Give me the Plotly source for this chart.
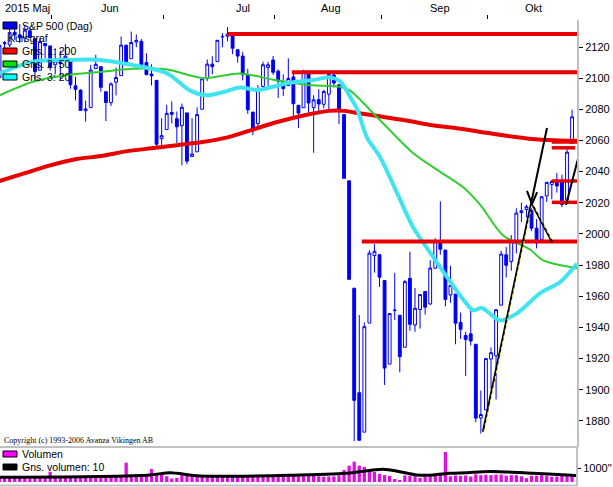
import plotly.graph_objects as go

# ---------------- data (S&P 500 daily, 2015-05-14 .. 2015-10-23) ----------------
dates = ["05-14","05-15","05-18","05-19","05-20","05-21","05-22","05-26","05-27","05-28","05-29",
         "06-01","06-02","06-03","06-04","06-05","06-08","06-09","06-10","06-11","06-12","06-15","06-16","06-17","06-18","06-19","06-22","06-23","06-24","06-25","06-26","06-29","06-30",
         "07-01","07-02","07-06","07-07","07-08","07-09","07-10","07-13","07-14","07-15","07-16","07-17","07-20","07-21","07-22","07-23","07-24","07-27","07-28","07-29","07-30","07-31",
         "08-03","08-04","08-05","08-06","08-07","08-10","08-11","08-12","08-13","08-14","08-17","08-18","08-19","08-20","08-21","08-24","08-25","08-26","08-27","08-28","08-31",
         "09-01","09-02","09-03","09-04","09-08","09-09","09-10","09-11","09-14","09-15","09-16","09-17","09-18","09-21","09-22","09-23","09-24","09-25","09-28","09-29","09-30",
         "10-01","10-02","10-05","10-06","10-07","10-08","10-09","10-12","10-13","10-14","10-15","10-16","10-19","10-20","10-21","10-22","10-23"]

opens = [2100.4,2122.1,2121.3,2129.5,2127.8,2125.6,2130.4,2125.3,2105.1,2122.3,2120.7,
         2108.6,2110.4,2110.6,2112.4,2095.1,2092.3,2079.1,2081.1,2106.2,2107.4,2091.3,2084.3,2097.4,2101.6,2121.1,2112.5,2123.2,2123.7,2110.0,2102.6,2098.6,2061.2,
         2067.0,2078.0,2074.0,2069.5,2077.7,2049.7,2052.7,2080.0,2099.7,2109.0,2110.6,2126.8,2126.9,2127.6,2118.2,2114.2,2102.2,2078.2,2070.8,2094.7,2106.8,2111.6,
         2104.5,2097.7,2095.3,2100.8,2082.6,2081.0,2102.7,2081.1,2086.2,2083.2,2089.7,2102.0,2095.7,2076.6,2034.1,1965.2,1898.1,1872.8,1942.8,1986.1,1986.7,
         1970.1,1916.5,1950.8,1947.8,1927.3,1971.5,1941.6,1951.5,1963.1,1955.1,1978.0,1995.3,1989.7,1960.8,1961.4,1943.2,1934.8,1935.9,1929.2,1881.9,1887.1,
         1919.7,1921.8,1954.3,1986.6,1982.3,1994.0,2013.7,2015.7,2015.0,2003.7,1996.5,2024.4,2031.7,2033.1,2033.5,2021.9,2058.2]
highs = [2121.5,2123.9,2131.8,2133.0,2134.7,2134.3,2132.2,2125.3,2126.2,2122.3,2120.7,
         2119.2,2117.6,2121.9,2112.9,2101.0,2093.0,2085.6,2108.5,2115.0,2107.4,2091.3,2097.4,2106.8,2126.7,2121.6,2129.9,2128.0,2125.1,2116.0,2108.9,2098.6,2074.3,
         2082.8,2085.1,2078.6,2083.7,2077.7,2074.3,2081.3,2100.7,2112.0,2114.1,2124.4,2128.9,2132.8,2128.5,2118.5,2116.9,2106.0,2078.2,2095.6,2110.6,2110.5,2114.2,
         2105.7,2102.5,2112.7,2103.3,2082.6,2105.4,2102.7,2089.1,2092.9,2092.5,2102.9,2103.5,2096.2,2076.6,2034.1,1965.2,1948.0,1943.1,1989.6,1993.5,1986.7,
         1970.1,1948.9,1975.0,1947.8,1970.4,1988.6,1965.3,1961.1,1963.1,1983.2,1997.3,2020.9,1989.7,1979.6,1961.4,1949.5,1937.2,1952.9,1929.2,1899.5,1920.5,
         1927.2,1951.4,1989.2,1991.6,1999.3,2016.5,2020.1,2018.7,2022.3,2009.6,2024.2,2033.5,2034.5,2039.1,2038.0,2055.2,2079.7]
lows = [2100.4,2116.8,2120.0,2124.5,2122.6,2123.0,2126.1,2099.2,2105.1,2112.9,2104.9,
        2102.5,2099.1,2110.6,2093.2,2085.7,2079.1,2072.1,2081.1,2106.2,2091.3,2072.5,2082.1,2088.9,2101.6,2109.5,2112.5,2119.9,2108.6,2101.8,2095.4,2056.6,2056.3,
        2067.0,2071.0,2058.4,2044.0,2044.7,2049.7,2052.7,2080.0,2098.2,2102.5,2110.6,2119.9,2123.7,2115.4,2110.0,2098.6,2077.1,2063.5,2069.1,2094.1,2095.0,2102.1,
        2087.3,2088.6,2095.3,2075.5,2067.9,2081.0,2076.5,2052.1,2078.3,2080.6,2079.3,2094.1,2070.5,2035.7,1970.9,1867.0,1867.1,1872.8,1942.8,1975.2,1966.0,
        1903.1,1916.5,1944.7,1911.2,1927.3,1937.9,1937.2,1939.2,1948.3,1954.3,1977.9,1986.7,1953.5,1955.8,1929.2,1932.6,1908.9,1928.4,1879.2,1871.9,1887.1,
        1900.7,1893.7,1954.3,1972.0,1976.4,1987.5,2007.6,2010.6,2001.8,1990.7,1996.5,2020.5,2022.3,2026.6,2017.2,2021.9,2058.2]
closes = [2121.1,2122.7,2129.2,2127.8,2125.9,2130.8,2126.1,2104.2,2123.5,2120.8,2107.4,
          2111.7,2109.6,2114.1,2095.8,2092.8,2079.3,2080.2,2105.2,2108.9,2094.1,2084.4,2096.3,2100.4,2121.2,2110.0,2122.9,2124.2,2108.6,2102.3,2101.5,2057.6,2063.1,
          2077.4,2076.8,2068.8,2081.3,2046.7,2051.3,2076.6,2099.6,2109.0,2107.4,2124.3,2126.6,2128.3,2119.2,2114.2,2102.2,2079.7,2067.6,2093.3,2108.6,2108.6,2103.8,
          2098.0,2093.3,2099.8,2083.6,2077.6,2104.2,2084.1,2086.1,2083.4,2091.5,2102.4,2096.9,2079.6,2035.7,1970.9,1893.2,1867.6,1940.5,1987.7,1988.9,1972.2,
          1913.9,1948.9,1951.1,1921.2,1969.4,1942.0,1952.3,1961.1,1953.0,1978.1,1995.3,1990.2,1958.0,1967.0,1942.7,1938.8,1932.2,1931.3,1881.8,1884.1,1920.0,
          1923.8,1951.4,1987.1,1979.9,1995.8,2013.4,2014.9,2017.5,2003.7,1994.2,2023.9,2033.1,2033.7,2030.8,2018.9,2052.5,2075.2]

# volume (scale: label 1000")
volumes = [380,390,370,380,380,370,250,420,400,390,750,
           400,390,390,410,400,380,390,400,370,380,390,410,400,420,1410,390,380,400,410,950,650,560,
           420,250,300,500,560,470,430,410,400,390,420,420,390,400,420,430,470,500,450,420,410,470,
           420,410,430,450,440,430,440,520,420,390,400,410,480,876,1190,1480,1200,1095,876,730,584,
           511,438,219,150,480,450,420,300,390,430,480,520,2190,420,480,450,470,400,560,500,530,
           500,540,540,460,500,500,420,280,450,460,500,450,380,400,440,500,540]

# moving averages (candle index, value)
ma200_idx = [0, 5, 10, 15, 20, 25, 30, 35, 40, 45, 50, 55, 60, 65, 68, 70, 75, 80, 85, 90, 95, 100, 105, 110, 114]
ma200_val = [2034, 2039, 2044, 2048, 2050, 2053, 2055, 2057, 2059, 2062, 2067, 2072, 2076, 2079, 2079, 2078, 2075.5, 2073, 2070, 2068, 2065.5, 2063, 2061, 2060, 2059.5]
ma50_idx = [0, 6.6, 13.3, 19.8, 26.3, 33.1, 40.2, 47.5, 54, 60.7, 67.2, 69.2, 75.1, 81.6, 86.9, 91.5, 94.8, 99.4, 104.7, 107.3, 114]
ma50_val = [2089, 2097.7, 2102, 2104, 2106, 2105.5, 2100, 2103, 2099, 2095.6, 2094.5, 2092, 2073, 2052, 2040, 2030, 2019, 1999, 1990, 1983, 1978]
ma20_idx = [0, 6.6, 13.3, 19.8, 26.3, 33.1, 37.6, 41, 44.1, 47.5, 50.8, 54, 57.3, 61.9, 65.2, 67.2, 69.2, 70.6, 72.5, 75.1, 78.5, 81.6, 85, 86.9, 91.5, 93.5, 95.2, 98.8, 102.1, 106.7, 110.6, 114]
ma20_val = [2103, 2110.6, 2111.7, 2111.7, 2108.4, 2103, 2092, 2089, 2091, 2094, 2092.4, 2094.5, 2097, 2098.8, 2100.5, 2098, 2088, 2080, 2062, 2049.4, 2026, 2004.5, 1988, 1979, 1958, 1951, 1952.5, 1944.5, 1949, 1962, 1969, 1981]
volavg_idx = [0, 19.8, 29.7, 33.7, 39.6, 59.3, 65.8, 69.2, 75.7, 79, 82.4, 85.6, 88.9, 92.3, 95.4, 98.8, 105.3, 112, 114]
volavg_val = [343, 400, 511, 679, 438, 511, 584, 657, 927, 752, 511, 511, 635, 679, 752, 752, 635, 511, 460]

# drawn support / resistance levels: (start index, end index, price)
levels = [(45.1, 114, 2128.4), (57.7, 114, 2103.8), (71.5, 114, 1995.2)]
short_levels = [(109.0, 114, 2059.5, 5), (109.0, 113.6, 2055.3, 3.5), (109.0, 114, 2034.0, 3.5), (109.0, 114, 2020.3, 3.5)]
# drawn trend lines: lists of (index, price)
trend_lines = [[(95.4, 1873), (108.05, 2068)],
               [(104.1, 2027.6), (105.1, 2019.2), (106.1, 2026.9)],
               [(105.1, 2019.2), (109.04, 1994.8)],
               [(111.8, 2018.6), (114.2, 2048.8)]]

month_labels = ["2015 Maj", "Jun", "Jul", "Aug", "Sep", "Okt"]
month_start_idx = [11, 33, 55, 76, 97]
price_ticks = [1880, 1900, 1920, 1940, 1960, 1980, 2000, 2020, 2040, 2060, 2080, 2100, 2120]

# ---------------- layout geometry ----------------
W, H = 613, 487
ML, MR, MT, MB = 0, 36, 20, 1
PW, PH = W - ML - MR, H - MT - MB


def px(x):
    return (x - ML) / PW


def py(y):
    return (H - MB - y) / PH


idx = list(range(len(closes)))
BLUE = "#0000f0"
RED = "#e80000"
GREEN = "#30cc30"
CYAN = "#40e4f0"
MAG = "#e010e0"
FONT = "Liberation Sans, Arial, sans-serif"

fig = go.Figure()
fig.add_trace(go.Candlestick(
    x=idx, open=opens, high=highs, low=lows, close=closes,
    increasing=dict(line=dict(color=BLUE, width=1), fillcolor="#ffffff"),
    decreasing=dict(line=dict(color=BLUE, width=1), fillcolor=BLUE),
    whiskerwidth=0, showlegend=False, hoverinfo="skip"))

fig.add_trace(go.Scatter(x=ma200_idx, y=ma200_val, mode="lines",
                         line=dict(color=RED, width=4, shape="spline", smoothing=0.8), showlegend=False))
fig.add_trace(go.Scatter(x=ma50_idx, y=ma50_val, mode="lines",
                         line=dict(color=GREEN, width=2, shape="spline", smoothing=0.8), showlegend=False))
fig.add_trace(go.Scatter(x=ma20_idx, y=ma20_val, mode="lines",
                         line=dict(color=CYAN, width=4, shape="spline", smoothing=0.8), showlegend=False))

fig.add_trace(go.Bar(x=idx, y=volumes, marker=dict(color=MAG, line=dict(width=0)),
                     xaxis="x2", yaxis="y2", showlegend=False))
fig.add_trace(go.Scatter(x=volavg_idx, y=volavg_val, mode="lines", xaxis="x2", yaxis="y2",
                         line=dict(color="#000000", width=3, shape="spline", smoothing=0.8), showlegend=False))

shapes = []
for x0, x1, lv in levels:
    shapes.append(dict(type="line", xref="x", yref="y", x0=x0, x1=x1, y0=lv, y1=lv,
                       line=dict(color=RED, width=4), layer="above"))
for x0, x1, lv, w in short_levels:
    shapes.append(dict(type="line", xref="x", yref="y", x0=x0, x1=x1, y0=lv, y1=lv,
                       line=dict(color=RED, width=w), layer="above"))
for seg in trend_lines:
    for (a, b), (c, d) in zip(seg[:-1], seg[1:]):
        shapes.append(dict(type="line", xref="x", yref="y", x0=a, y0=b, x1=c, y1=d,
                           line=dict(color="#000000", width=2), layer="above"))
# yellow dotted helper along the lower part of the main trend line
shapes.append(dict(type="line", xref="x", yref="y", x0=95.6, y0=1873, x1=105.1, y1=2019.2,
                   line=dict(color="#f0f060", width=1, dash="dot"), layer="above"))
shapes.append(dict(type="line", xref="x", yref="y", x0=105.3, y0=2019.2, x1=109.0, y1=1996,
                   line=dict(color="#f0f060", width=1, dash="dot"), layer="above"))

# panel borders
shapes.append(dict(type="line", xref="paper", yref="paper", x0=0, x1=1, y0=py(447), y1=py(447),
                   line=dict(color="#c0c0c0", width=2)))
shapes.append(dict(type="line", xref="paper", yref="paper", x0=0, x1=1, y0=py(485.5), y1=py(485.5),
                   line=dict(color="#c0c0c0", width=2)))
# legend boxes
legend_boxes = [(22, 29, BLUE), (48, 54, "#ff0000"), (61, 67, "#00e000"), (74, 80, "#00ffff"),
                (451, 457, "#ff00ff"), (464, 470, "#000000")]
for y0, y1, col in legend_boxes:
    shapes.append(dict(type="rect", xref="paper", yref="paper", x0=px(3), x1=px(17), y0=py(y1), y1=py(y0),
                       fillcolor=col, line=dict(color="#000000", width=1), layer="above"))

annotations = []
legend_texts = [(20, 26, "S&P 500 (Dag)"), (6, 38, "Kursgraf"), (20, 51, "Gns. 1: 200"),
                (20, 64, "Gns. 2: 50"), (20, 77, "Gns. 3: 20"),
                (20, 454, "Volumen"), (20, 467, "Gns. volumen: 10")]
for x, y, t in legend_texts:
    annotations.append(dict(text=t, xref="paper", yref="paper", x=px(x), y=py(y), xanchor="left",
                            yanchor="middle", showarrow=False, font=dict(family=FONT, size=10.5, color="#000")))
annotations.append(dict(text="Copyright (c) 1993-2006 Avanza Vikingen AB", xref="paper", yref="paper",
                        x=px(2), y=py(440), xanchor="left", yanchor="middle", showarrow=False,
                        font=dict(family="Liberation Serif, Times New Roman, serif", size=8, color="#000")))
month_label_px = [3, 110, 243, 331, 440, 533]
for i, (lab, xp) in enumerate(zip(month_labels, month_label_px)):
    annotations.append(dict(text=lab, xref="paper", yref="paper", x=px(xp), y=py(8),
                            xanchor="left" if i == 0 else "center", yanchor="middle", showarrow=False,
                            font=dict(family=FONT, size=11, color="#000")))

x_lo = (0 + 0.5) / 5.067
x_hi = (PW + 0.5) / 5.067
vol_zero_px, vol_top_px, px_per_1000 = 482, 448, 13.7

fig.update_layout(
    width=W, height=H, margin=dict(l=ML, r=MR, t=MT, b=MB, pad=0, autoexpand=False),
    paper_bgcolor="#ffffff", plot_bgcolor="#ffffff",
    showlegend=False, bargap=0.35, boxgap=0.2, hovermode=False,
    xaxis=dict(domain=[0, 1], range=[x_lo, x_hi], side="top", anchor="y",
               tickvals=[m - 0.7 for m in month_start_idx], ticks="outside", ticklen=4,
               tickcolor="#000", showticklabels=False, showgrid=False, zeroline=False,
               showline=False, rangeslider=dict(visible=False), fixedrange=True),
    yaxis=dict(domain=[py(447), 1], range=[1863.26, 2137.33], side="right", anchor="x",
               tickvals=price_ticks, ticks="outside", ticklen=4, tickcolor="#000",
               tickfont=dict(family=FONT, size=11, color="#000"), showgrid=False, zeroline=False,
               showline=True, linecolor="#c0c0c0", linewidth=2),
    xaxis2=dict(domain=[0, 1], matches="x", anchor="y2", showticklabels=False, ticks="",
                showgrid=False, zeroline=False, showline=False),
    yaxis2=dict(domain=[py(vol_zero_px), py(vol_top_px)],
                range=[0, (vol_zero_px - vol_top_px) / px_per_1000 * 1000], side="right", anchor="x2",
                tickvals=[1000], ticktext=['1000"'], ticks="outside", ticklen=3, tickcolor="#000",
                tickfont=dict(family=FONT, size=11, color="#000"), showgrid=False, zeroline=False,
                showline=False),
    shapes=shapes + [dict(type="line", xref="paper", yref="paper", x0=1, x1=1, y0=0, y1=py(447),
                          line=dict(color="#c0c0c0", width=2))],
    annotations=annotations,
)

assert len(opens) == len(highs) == len(lows) == len(closes) == len(volumes) == len(dates) == 114

fig.write_html("out.html", config={"displayModeBar": False, "staticPlot": True},
               post_script="document.body.style.margin='0';document.body.style.overflow='hidden';")
